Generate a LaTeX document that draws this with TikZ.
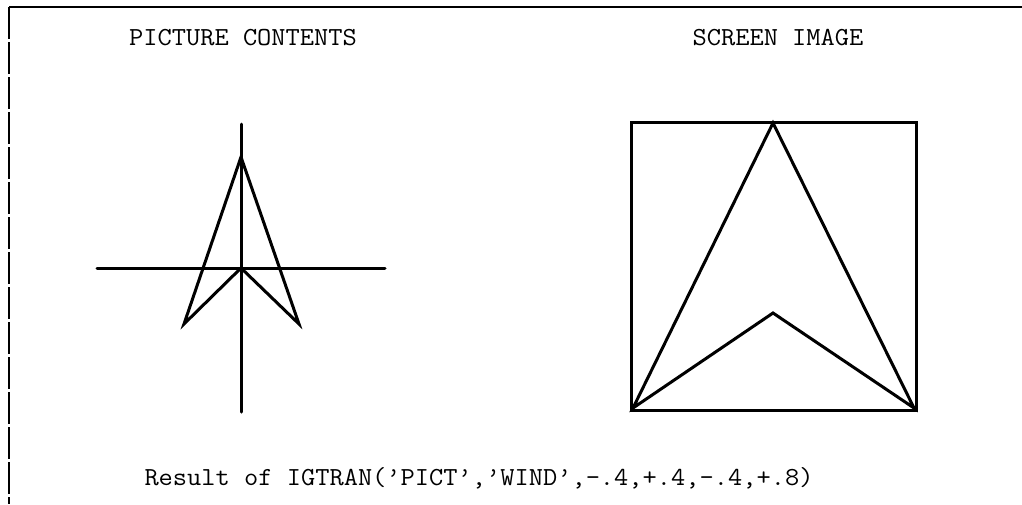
\documentclass[tikz,border=0pt]{standalone}
\usepackage{fontspec}
\usepackage{graphicx}
\begin{document}
\begin{tikzpicture}[x=1pt,y=-1pt,
  fig/.style={line width=3pt, line join=miter, line cap=round},
  frame/.style={line width=1.4pt},
  lbl/.style={font=\ttfamily\fontsize{26}{30}\selectfont, anchor=base, inner sep=0pt}]
\useasboundingbox (0,0) rectangle (1022,504);
% frame
\draw[frame] (1022,7) -- (9,7);
\draw[frame, dash pattern=on 32pt off 3pt] (9,7) -- (9,504);
% labels
\node[lbl] (t1) at (243,45) {\scalebox{1.063}[1]{PICTURE CONTENTS}};
\node[lbl] (t2) at (778,45) {\scalebox{1.063}[1]{SCREEN IMAGE}};
\node[lbl] (t3) at (479,485) {\scalebox{1.063}[1]{Result of IGTRAN(\textquoteright PICT\textquoteright,\textquoteright WIND\textquoteright,-.4,+.4,-.4,+.8)}};
% picture contents
\coordinate (vt) at (241,124);
\coordinate (vb) at (241,412);
\coordinate (hl) at (97,268);
\coordinate (hr) at (385,268);
\coordinate (tip) at (241,157);
\coordinate (ctr) at (241,268);
\coordinate (ll) at (184,324);
\coordinate (lr) at (299,324);
\draw[fig] (vt) -- (vb);
\draw[fig] (hl) -- (hr);
\draw[fig] (tip) -- (lr) -- (ctr) -- (ll) -- cycle;
% screen image
\coordinate (b1) at (631,122);
\coordinate (b2) at (916,410);
\coordinate (stip) at (773,123);
\coordinate (snotch) at (773,313);
\coordinate (sll) at (633,408);
\coordinate (slr) at (914,408);
\draw[fig] (b1) rectangle (b2);
\draw[fig] (stip) -- (slr) -- (snotch) -- (sll) -- cycle;
\end{tikzpicture}
\end{document}
